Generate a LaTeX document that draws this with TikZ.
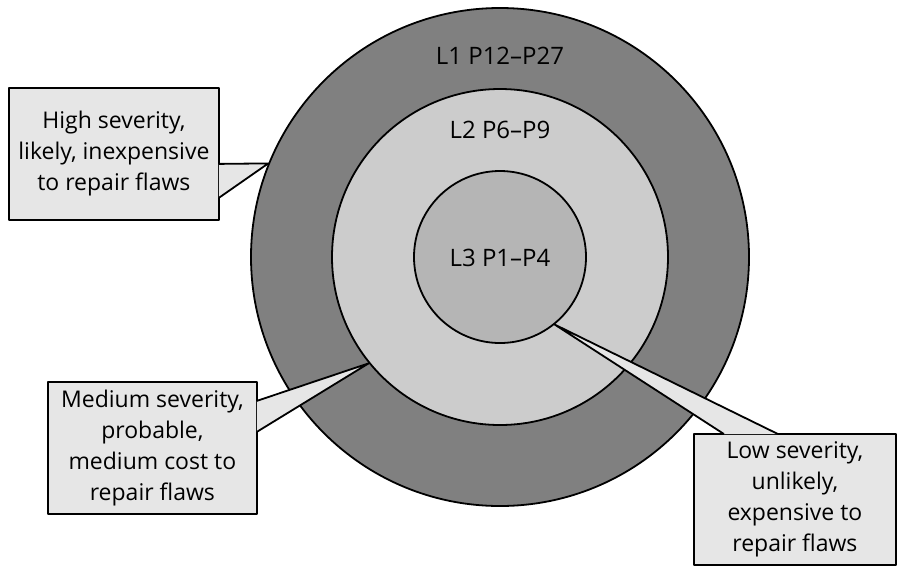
\documentclass[tikz,border=0pt]{standalone}
\usepackage{fontspec}
\setmainfont{Open Sans}
\definecolor{outergray}{HTML}{808080}
\definecolor{midgray}{HTML}{CCCCCC}
\definecolor{innergray}{HTML}{B5B5B5}
\definecolor{boxgray}{HTML}{E6E6E6}
\begin{document}
\begin{tikzpicture}[x=1pt, y=-1pt, line join=round,
  ring/.style={circle, draw, line width=1.8pt, inner sep=0pt},
  level/.style={font=\fontsize{24}{28}\selectfont},
  note/.style={draw, fill=boxgray, line width=1.8pt, anchor=north west, align=center, inner sep=0pt, font=\fontsize{23}{31}\selectfont},
  pointer/.style={draw, fill=boxgray, line width=1.8pt}]
\useasboundingbox (0,0) rectangle (897,566);
% the three levels
\node [ring, fill=outergray, minimum size=498pt] (l1) at (500,257) {};
\node [ring, fill=midgray, minimum size=336pt] (l2) at (500,257) {};
\node [ring, fill=innergray, minimum size=172pt] (l3) at (500,257) {};
\node [level] (t1) at (500,56) {L1 P12–P27};
\node [level] (t2) at (500,130) {L2 P6–P9};
\node [level] (t3) at (500,258) {L3 P1–P4};
% callouts
\node [note, minimum width=210pt, minimum height=132pt] (high) at (8,87) {High severity,\\likely, inexpensive\\to repair flaws};
\draw [pointer] ([xshift=-1pt, yshift=-10pt]high.east) -- (l1.158) -- ([xshift=-1pt, yshift=-44pt]high.east);
\node [note, minimum width=209pt, minimum height=132pt] (medium) at (47,381) {Medium severity,\\probable,\\medium cost to\\repair flaws};
\draw [pointer] ([xshift=-1pt, yshift=47pt]medium.east) -- (l2.219) -- ([xshift=-1pt, yshift=16pt]medium.east);
\node [note, minimum width=202pt, minimum height=131pt] (low) at (693,433) {Low severity,\\unlikely,\\expensive to\\repair flaws};
\draw [pointer] ([xshift=-71pt, yshift=-1pt]low.north) -- (l3.309) -- ([xshift=-17pt, yshift=-1pt]low.north);
\end{tikzpicture}
\end{document}
